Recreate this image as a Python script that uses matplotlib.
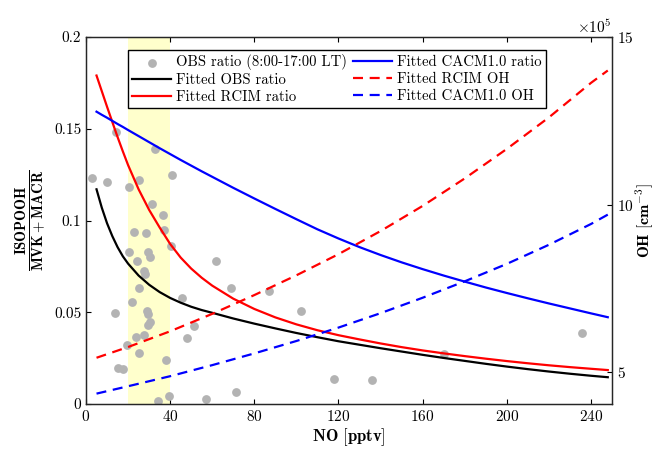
import numpy as np
import matplotlib
matplotlib.use('Agg')
import matplotlib.pyplot as plt
from matplotlib import ticker

plt.rcParams['font.family'] = ['cmr10', 'DejaVu Serif']
plt.rcParams['mathtext.fontset'] = 'cm'
plt.rcParams['axes.formatter.use_mathtext'] = True
plt.rcParams['axes.unicode_minus'] = False

# observed ratio (8:00-17:00 LT)
obs_no = [3, 10, 14.3, 20.3, 25.1, 32.7, 41, 31.4, 36.8, 23, 28.6, 37, 20.3, 29.4, 30.6,
          24.3, 40.2, 27.8, 28.2, 25.1, 21.9, 13.8, 29, 29.3, 30.5, 29.5, 45.6, 51.4, 48,
          27.6, 23.8, 19.5, 25.2, 38, 15.2, 17.6, 39.5, 34.3, 62, 69, 87, 102, 118, 135.7,
          71.4, 57, 170, 235.7]
obs_ratio = [0.123, 0.121, 0.148, 0.118, 0.122, 0.139, 0.125, 0.109, 0.103, 0.094, 0.093,
             0.095, 0.083, 0.083, 0.080, 0.078, 0.086, 0.0725, 0.071, 0.063, 0.0555, 0.0496,
             0.0507, 0.049, 0.0447, 0.043, 0.0577, 0.0425, 0.036, 0.0376, 0.0365, 0.032,
             0.028, 0.024, 0.0196, 0.019, 0.0044, 0.0016, 0.078, 0.063, 0.0616, 0.0507,
             0.0136, 0.013, 0.0065, 0.0027, 0.027, 0.0387]

# fitted ratio curves, read off at these NO values
fit_no = [5, 7.5, 10, 12.5, 15, 17.5, 20, 25, 30, 35, 40, 45, 50, 55, 60, 70, 80, 90, 100,
          110, 120, 130, 140, 150, 160, 170, 180, 190, 200, 210, 220, 230, 240, 248]
fit_obs = [0.117, 0.107, 0.0985, 0.0915, 0.0855, 0.0805, 0.0765, 0.070, 0.065, 0.061,
           0.0578, 0.0552, 0.053, 0.0512, 0.0497, 0.0466, 0.0438, 0.0412, 0.0387, 0.0364,
           0.0342, 0.0323, 0.0304, 0.0286, 0.0268, 0.0251, 0.0235, 0.0219, 0.0204, 0.019,
           0.0177, 0.0165, 0.0154, 0.0146]
fit_rcim = [0.179, 0.1705, 0.162, 0.1537, 0.1455, 0.1377, 0.1302, 0.117, 0.1058, 0.0962,
            0.0872, 0.0798, 0.0738, 0.0688, 0.0645, 0.0574, 0.0518, 0.0472, 0.0434, 0.0402,
            0.0375, 0.0352, 0.033, 0.031, 0.0292, 0.0276, 0.0261, 0.0247, 0.0234, 0.0222,
            0.0211, 0.0201, 0.0192, 0.0185]
fit_cacm = [0.1593, 0.1576, 0.156, 0.1543, 0.1526, 0.151, 0.1493, 0.146, 0.1427, 0.1394,
            0.1362, 0.133, 0.1299, 0.1268, 0.1238, 0.1178, 0.112, 0.1063, 0.1007, 0.0952,
            0.0902, 0.0855, 0.0812, 0.0772, 0.0735, 0.07, 0.0667, 0.0635, 0.0605, 0.0576,
            0.0548, 0.0521, 0.0494, 0.0473]

# fitted OH, units of 1e5 cm-3
oh_no = [5, 20, 40, 60, 80, 100, 120, 140, 160, 180, 200, 220, 240, 248]
oh_rcim = [5.43, 5.75, 6.22, 6.74, 7.30, 7.89, 8.52, 9.21, 9.96, 10.78, 11.66, 12.60, 13.63, 14.0]
oh_cacm = [4.36, 4.58, 4.88, 5.21, 5.56, 5.93, 6.33, 6.76, 7.22, 7.71, 8.23, 8.80, 9.42, 9.70]

fig = plt.figure(figsize=(6.56, 4.5), dpi=100)
ax = fig.add_axes([0.1311, 0.1022, 0.8018, 0.8156])
ax2 = ax.twinx()

ax.axvspan(20, 40, color='#ffffcc', lw=0, zorder=0)
h0 = ax.scatter(obs_no, obs_ratio, s=40, color='#b3b3b3', lw=0, zorder=2,
                label='OBS ratio (8:00-17:00 LT)')
h1, = ax.plot(fit_no, fit_obs, color='k', lw=1.6, zorder=3, label='Fitted OBS ratio')
h2, = ax.plot(fit_no, fit_rcim, color='r', lw=1.6, zorder=3, label='Fitted RCIM ratio')
h3, = ax.plot(fit_no, fit_cacm, color='b', lw=1.6, zorder=3, label='Fitted CACM1.0 ratio')
h4, = ax2.plot(oh_no, np.array(oh_rcim) * 1e5, color='r', lw=1.6, ls='--', dashes=(4.5, 3),
               label='Fitted RCIM OH')
h5, = ax2.plot(oh_no, np.array(oh_cacm) * 1e5, color='b', lw=1.6, ls='--', dashes=(4.5, 3),
               label='Fitted CACM1.0 OH')

ax.set_xlim(0, 250)
ax.set_ylim(0, 0.2)
ax2.set_ylim(4.05e5, 15e5)
ax.set_xticks([0, 40, 80, 120, 160, 200, 240])
ax.set_yticks([0, 0.05, 0.1, 0.15, 0.2])
ax.yaxis.set_major_formatter(ticker.FormatStrFormatter('%g'))
ax2.set_yticks([5e5, 10e5, 15e5])
fmt = ticker.ScalarFormatter(useMathText=True)
fmt.set_powerlimits((5, 5))
ax2.yaxis.set_major_formatter(fmt)

ax.tick_params(direction='in', top=True, right=False, labelsize=11, length=3.5, width=0.8)
ax2.tick_params(direction='in', labelsize=11, length=3.5, width=0.8)
ax2.yaxis.get_offset_text().set_fontsize(11)
for a in (ax, ax2):
    for s in a.spines.values():
        s.set_linewidth(0.9)
        s.set_color('#262626')

ax.set_xlabel(r'$\mathbf{NO\ [pptv]}$', fontsize=12, labelpad=2)
ax.set_ylabel(r'$\frac{\mathbf{ISOPOOH}}{\mathbf{MVK+MACR}}$', fontsize=15, labelpad=4)
ax2.set_ylabel(r'$\mathbf{OH\ [cm^{-3}]}$', fontsize=11.5, labelpad=0)

ax2.legend(handles=[h0, h1, h2, h3, h4, h5], ncol=2, loc='upper left',
           bbox_to_anchor=(0.0798, 0.9646), borderaxespad=0, fontsize=10.6,
           fancybox=False, framealpha=1, edgecolor='k', handlelength=2.6,
           handletextpad=0.35, columnspacing=0.45, labelspacing=0.2, borderpad=0.3,
           scatterpoints=1)

fig.savefig('out.png', dpi=100)
